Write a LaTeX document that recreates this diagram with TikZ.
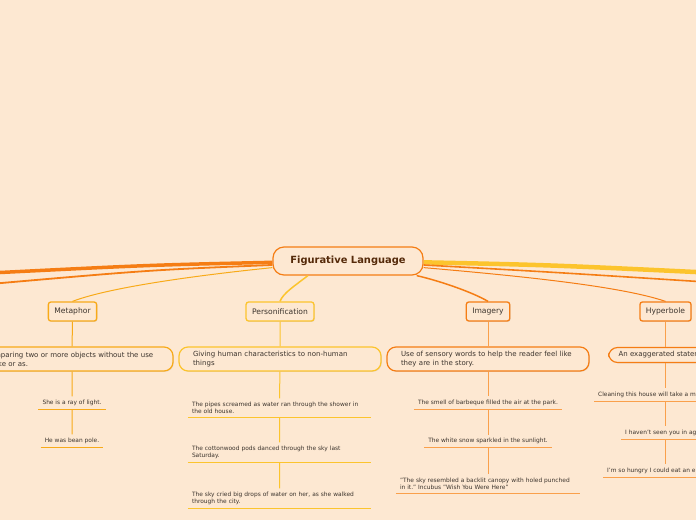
\documentclass[tikz,border=0pt]{standalone}
\usepackage{fontspec}
\setmainfont{DejaVu Sans}
\usetikzlibrary{shadows}
\definecolor{mm_bg}{RGB}{253,232,210}
\definecolor{mm_org}{RGB}{245,125,20}
\definecolor{mm_lorg}{RGB}{250,160,75}
\definecolor{mm_amb}{RGB}{248,170,25}
\definecolor{mm_yel}{RGB}{252,196,45}
\definecolor{mm_brn}{RGB}{85,42,10}
\definecolor{mm_txt}{RGB}{60,52,45}
\tikzstyle{root}=[rectangle,rounded corners=11pt,fill=mm_bg,draw=mm_org,
  line width=1.2pt,minimum width=150pt,minimum height=28pt,text=mm_brn,
  font=\bfseries\fontsize{9.9}{11}\selectfont]
\tikzstyle{sub}=[rectangle,rounded corners=2.5pt,fill=mm_bg,line width=1.3pt,
  minimum height=19pt,inner xsep=6pt,text=mm_txt,font=\fontsize{7.6}{9}\selectfont,
  drop shadow={shadow xshift=0.8pt,shadow yshift=-0.8pt,opacity=0.2}]
\tikzstyle{dfn}=[rectangle,rounded corners=9pt,fill=mm_bg,line width=1.2pt,
  minimum height=24pt,inner xsep=14pt,align=left,text=mm_txt,
  font=\fontsize{7}{9}\selectfont,
  drop shadow={shadow xshift=0.8pt,shadow yshift=-0.8pt,opacity=0.2}]
\tikzstyle{leaf}=[inner xsep=4pt,inner ysep=3.2pt,anchor=south,align=left,
  text=mm_txt,font=\fontsize{5.9}{7.2}\selectfont]
\tikzstyle{vl}=[line width=1pt]

\begin{document}
\begin{tikzpicture}[x=1pt,y=-1pt]
    \useasboundingbox (0,0) rectangle (696,520);
    \fill[mm_bg] (0,0) rectangle (696,520);
    \clip (0,0) rectangle (696,520);
    % branches leaving the picture
    \coordinate (wl1) at (-10,273);
    \coordinate (wl2) at (-10,284);
    \coordinate (er1) at (706,272.5);
    \coordinate (er2) at (706,282);
    % main topic and subtopics
    \node [style=root] (root) at (348,261) {Figurative Language};
    \node [style=sub,draw=mm_amb] (met) at (72.5,311.5) {Metaphor};
    \node [style=sub,draw=mm_yel] (per) at (280,311.5) {Personification};
    \node [style=sub,draw=mm_org] (img) at (488,311.5) {Imagery};
    \node [style=sub,draw=mm_org] (hyp) at (665.5,311.5) {Hyperbole};
    \draw [mm_org,line width=3.5pt] (root.181) .. controls (150,265) .. (wl1);
    \draw [mm_org,line width=1.8pt] (root.183) .. controls (150,270) .. (wl2);
    \draw [mm_yel,line width=4.5pt] (root.359) .. controls (550,265) .. (er1);
    \draw [mm_org,line width=1.6pt] (root.357) .. controls (550,272) .. (er2);
    \draw [mm_amb,line width=1pt] (root.185) .. controls (200,275) and (110,287) .. (met.north);
    \draw [mm_yel,line width=1.5pt] (root.200) .. controls (296,285) and (283,293) .. (per.north);
    \draw [mm_org,line width=1.5pt] (root.348) .. controls (440,281) and (472,292) .. (img.north);
    \draw [mm_org,line width=1pt] (root.355) .. controls (520,276) and (620,286) .. (hyp.north);
    % definitions
    \node [style=dfn,draw=mm_amb,text width=174pt] (metd) at (72,359)
      {Comparing two or more objects without the use\\of like or as.};
    \node [style=dfn,draw=mm_yel,text width=174pt] (perd) at (280,359)
      {Giving human characteristics to non-human\\things};
    \node [style=dfn,draw=mm_org,text width=174pt] (imgd) at (488,359)
      {Use of sensory words to help the reader feel like\\they are in the story.};
    \node [style=dfn,draw=mm_org,minimum height=15pt,inner xsep=10pt,anchor=west] (hypd) at (608,355)
      {An exaggerated statement.};
    % examples
    \node [style=leaf] (ml1) at (72,409) {She is a ray of light.};
    \node [style=leaf] (ml2) at (72,447) {He was bean pole.};
    \node [style=leaf,text width=175pt] (pl1) at (279.5,417)
      {The pipes screamed as water ran through the shower in\\the old house.};
    \node [style=leaf,text width=175pt] (pl2) at (279.5,462)
      {The cottonwood pods danced through the sky last\\Saturday.};
    \node [style=leaf,text width=175pt] (pl3) at (279.5,508)
      {The sky cried big drops of water on her, as she walked\\through the city.};
    \node [style=leaf] (il1) at (488,409) {The smell of barbeque filled the air at the park.};
    \node [style=leaf] (il2) at (488,447.5) {The white snow sparkled in the sunlight.};
    \node [style=leaf,text width=176pt] (il3) at (488,493)
      {"The sky resembled a backlit canopy with holed punched\\in it." Incubus "Wish You Were Here"};
    \node [style=leaf,anchor=south west] (hl1) at (594,401) {Cleaning this house will take a million years.};
    \node [style=leaf,anchor=south west] (hl2) at (621,439) {I haven't seen you in ages.};
    \node [style=leaf,anchor=south west] (hl3) at (603,477) {I'm so hungry I could eat an elephant.};
    % underlines
    \foreach \n/\c in {ml1/mm_amb,ml2/mm_amb,pl1/mm_yel,pl2/mm_yel,pl3/mm_yel,
      il1/mm_lorg,il2/mm_lorg,il3/mm_lorg,hl1/mm_lorg,hl2/mm_lorg,hl3/mm_lorg}
      \draw [vl,\c] (\n.south west) -- (\n.south east);
    % vertical connectors
    \draw [vl,mm_amb] (met) -- (metd) (metd) -- (ml1) (ml1.south) -- (ml2);
    \draw [vl,mm_yel] (per) -- (perd) (perd) -- (pl1) (pl1.south) -- (pl2) (pl2.south) -- (pl3);
    \draw [vl,mm_lorg] (img) -- (imgd) (imgd) -- (il1) (il1.south) -- (il2) (il2.south) -- (il3);
    \draw [vl,mm_lorg] (hyp) -- (hyp |- hypd.north) (hyp |- hypd.south) -- (hyp |- hl1.north)
      (hyp |- hl1.south) -- (hyp |- hl2.north) (hyp |- hl2.south) -- (hyp |- hl3.north);
\end{tikzpicture}
\end{document}
